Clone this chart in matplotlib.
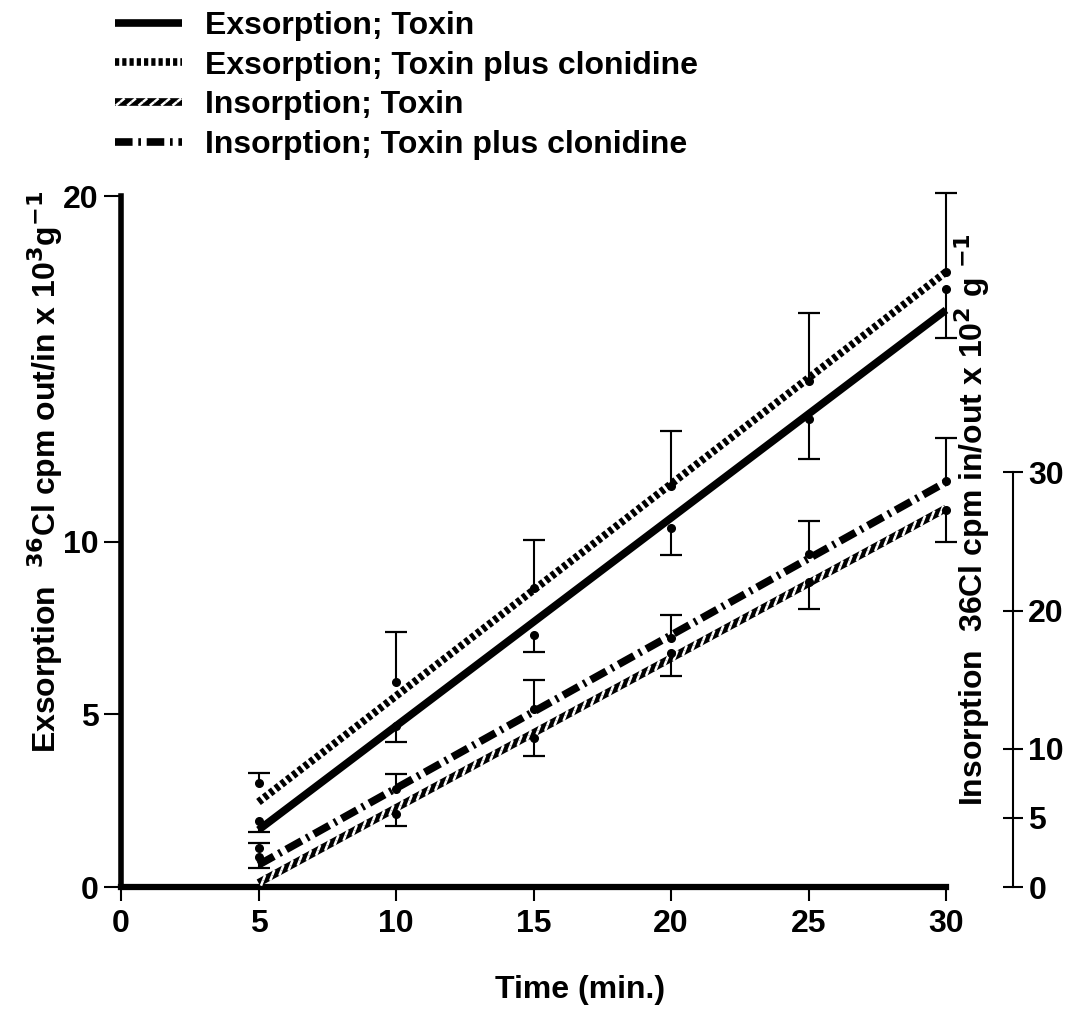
import numpy as np
import matplotlib
matplotlib.use("Agg")
import matplotlib.pyplot as plt
import matplotlib.patheffects as pe

# ---------------- data ----------------
time = [5, 10, 15, 20, 25, 30]
fit_x = [5, 30]

# Exsorption (left axis, x10^3)
exs_toxin = [1.9, 4.65, 7.3, 10.4, 13.55, 17.3]
exs_toxin_err = [0.3, 0.45, 0.5, 0.8, 1.15, 1.4]        # drawn downward
exs_toxin_fit = [1.65, 16.7]

exs_clon = [3.0, 5.93, 8.64, 11.6, 14.65, 17.8]
exs_clon_err = [0.3, 1.45, 1.4, 1.6, 1.95, 2.3]         # drawn upward
exs_clon_fit = [2.46, 17.8]

# Insorption (right axis, x10^2)
ins_toxin = [2.2, 5.3, 10.8, 16.9, 22.1, 27.3]
ins_toxin_err = [0.8, 0.85, 1.3, 1.6, 2.0, 2.3]         # drawn downward
ins_toxin_fit = [0.3, 27.4]

ins_clon = [2.8, 7.1, 12.9, 18.0, 24.1, 29.4]
ins_clon_err = [0.4, 1.1, 2.1, 1.7, 2.4, 3.1]           # drawn upward
ins_clon_fit = [1.6, 29.3]

x_ticks = [0, 5, 10, 15, 20, 25, 30]
left_ticks = [0, 5, 10, 20]
right_ticks = [0, 5, 10, 20, 30]

labels = ["Exsorption; Toxin", "Exsorption; Toxin plus clonidine",
          "Insorption; Toxin", "Insorption; Toxin plus clonidine"]

# ---------------- style ----------------
plt.rcParams['font.family'] = ['Liberation Sans', 'DejaVu Sans']
plt.rcParams['font.weight'] = 'bold'
FS = 23

fig = plt.figure(figsize=(10.70, 10.13), dpi=100)
W, H = 1070, 1013
x0, x30 = 121, 946
y0, y20 = 887, 196
ax = fig.add_axes([x0 / W, 1 - y0 / H, (x30 - x0) / W, (y0 - y20) / H])
ax2 = ax.twinx()

ax.set_xlim(0, 30)
ax.set_ylim(0, 20)
ax2.set_ylim(0, 50)

LW = 5.5
hatch_fx = [pe.Normal(),
            pe.TickedStroke(angle=40, spacing=7.5, length=0.55, linewidth=1.8, foreground='white'),
            pe.TickedStroke(angle=-140, spacing=7.5, length=0.55, linewidth=1.8, foreground='white')]

l1, = ax.plot(fit_x, exs_toxin_fit, color='black', lw=LW, solid_capstyle='butt', clip_on=False)
l2, = ax.plot(fit_x, exs_clon_fit, color='black', lw=LW, linestyle=(0, (0.55, 0.4)),
              dash_capstyle='butt', clip_on=False)
l3, = ax2.plot(fit_x, ins_toxin_fit, color='black', lw=LW, solid_capstyle='butt',
               path_effects=hatch_fx, clip_on=False)
l4, = ax2.plot(fit_x, ins_clon_fit, color='black', lw=LW, linestyle=(0, (2.3, 0.75, 0.35, 0.75)),
               dash_capstyle='butt', clip_on=False)


def points_with_errors(a, vals, errs, sign):
    vals = np.asarray(vals, float)
    ends = vals + sign * np.asarray(errs, float)
    a.vlines(time, vals, ends, color='black', lw=1.5, clip_on=False)
    a.plot(time, ends, linestyle='none', marker='_', ms=16, mew=1.6, color='black', clip_on=False)
    a.plot(time, vals, linestyle='none', marker='o', ms=5.5, color='black', clip_on=False)


points_with_errors(ax, exs_toxin, exs_toxin_err, -1)
points_with_errors(ax, exs_clon, exs_clon_err, +1)
points_with_errors(ax2, ins_toxin, ins_toxin_err, -1)
points_with_errors(ax2, ins_clon, ins_clon_err, +1)

# ---------------- axes ----------------
for s in ['top', 'right']:
    ax.spines[s].set_visible(False)
ax.spines['left'].set_linewidth(4)
ax.spines['left'].set_bounds(0, 20)
ax.spines['bottom'].set_linewidth(4.5)

ax.set_xticks(x_ticks)
ax.set_xticklabels([str(t) for t in x_ticks])
ax.set_yticks(left_ticks)
ax.set_yticklabels([str(t) for t in left_ticks])
ax.tick_params(axis='x', direction='out', length=10, width=1.5, pad=6, labelsize=FS)
ax.tick_params(axis='y', direction='out', length=12, width=1.5, pad=4, labelsize=FS)

for s in ['top', 'left', 'bottom']:
    ax2.spines[s].set_visible(False)
ax2.spines['right'].set_position(('axes', (1013 - x0) / (x30 - x0)))
ax2.spines['right'].set_bounds(0, 30)
ax2.spines['right'].set_linewidth(1.5)
ax2.set_yticks(right_ticks)
ax2.set_yticklabels([str(t) for t in right_ticks])
ax2.tick_params(axis='y', direction='inout', length=14, width=1.5, pad=4, labelsize=FS)

# ---------------- labels ----------------
fig.text(580 / W, 1 - 990 / H, "Time (min.)", ha='center', va='center', fontsize=FS, fontweight='bold')
fig.text(45 / W, 1 - 472 / H, r"Exsorption  $^{\mathbf{36}}$Cl cpm out/in x 10$^{\mathbf{3}}$g$^{\mathbf{-1}}$",
         rotation=90, ha='center', va='center', fontsize=FS, fontweight='bold')
fig.text(972 / W, 1 - 520 / H, r"Insorption  36Cl cpm in/out x 10$^{\mathbf{2}}$ g $^{\mathbf{-1}}$",
         rotation=90, ha='center', va='center', fontsize=FS, fontweight='bold')

fig.legend([l1, l2, l3, l4], labels, loc='upper left', bbox_to_anchor=(115 / W, 1 - 11 / H),
           frameon=False, fontsize=FS, handlelength=2.1, handletextpad=0.72,
           labelspacing=0.3, borderpad=0, borderaxespad=0)

fig.savefig("out.png", dpi=100)
